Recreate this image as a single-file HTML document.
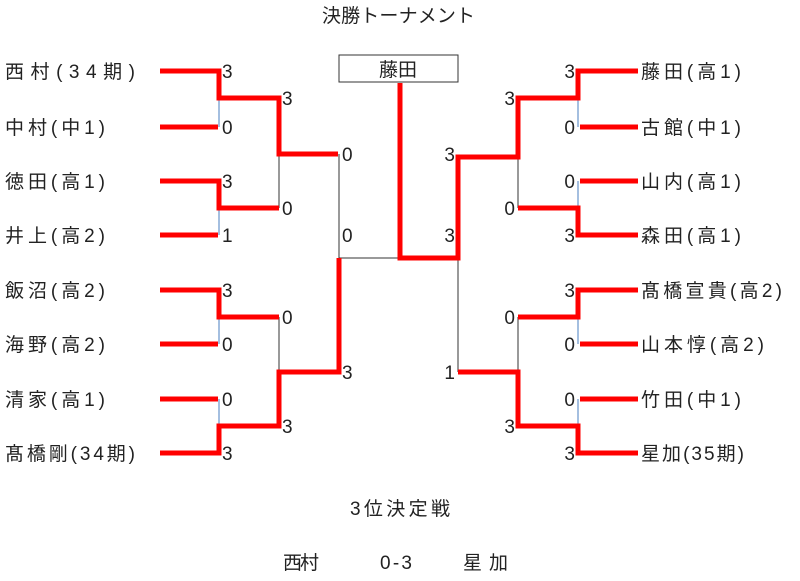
<!DOCTYPE html>
<html><head><meta charset="utf-8"><style>
body{margin:0;width:800px;height:576px;background:#fff;overflow:hidden}
svg text{font-family:"Liberation Sans","Noto Sans CJK JP",sans-serif;font-size:19px;fill:#222}
</style></head><body>
<svg width="800" height="576" xmlns="http://www.w3.org/2000/svg">
<g stroke="#4a7fc0" stroke-width="1" fill="none">
<line x1="219" y1="98" x2="219" y2="127"/><line x1="219" y1="208" x2="219" y2="235"/>
<line x1="219" y1="317" x2="219" y2="344"/><line x1="219" y1="399" x2="219" y2="426"/>
<line x1="578" y1="98" x2="578" y2="127"/><line x1="578" y1="181" x2="578" y2="208"/>
<line x1="578" y1="317" x2="578" y2="344"/><line x1="578" y1="399" x2="578" y2="426"/>
</g>
<g stroke="#333" stroke-width="1" fill="none">
<line x1="279" y1="154" x2="279" y2="208"/><line x1="279" y1="317" x2="279" y2="372"/>
<line x1="339" y1="154" x2="339" y2="258"/><line x1="339" y1="258" x2="400" y2="258"/>
<line x1="518" y1="157" x2="518" y2="208"/><line x1="518" y1="317" x2="518" y2="372"/>
<line x1="458" y1="258" x2="458" y2="372"/>
</g>
<g stroke="#f00" stroke-width="5" fill="none" stroke-linejoin="miter">
<polyline points="160,71 219,71 219,98 279,98 279,154 338,154"/>
<line x1="160" y1="127" x2="218" y2="127"/>
<polyline points="160,181 219,181 219,208 279,208"/>
<line x1="160" y1="235" x2="218" y2="235"/>
<polyline points="160,290 219,290 219,317 279,317"/>
<line x1="160" y1="344" x2="218" y2="344"/>
<line x1="160" y1="399" x2="218" y2="399"/>
<polyline points="160,453 219,453 219,426 279,426 279,372 339,372 339,258"/>
<polyline points="400,83 400,258 458,258 458,157 518,157 518,98 578,98 578,71 638,71"/>
<line x1="580" y1="127" x2="638" y2="127"/>
<line x1="580" y1="181" x2="638" y2="181"/>
<polyline points="518,208 578,208 578,235 638,235"/>
<polyline points="638,290 578,290 578,317 518,317"/>
<line x1="580" y1="344" x2="638" y2="344"/>
<polyline points="458,372 518,372 518,426 578,426 578,453 638,453"/>
<line x1="580" y1="399" x2="638" y2="399"/>
</g>
<rect x="339" y="55" width="119" height="27" fill="#fff" stroke="#333" stroke-width="1"/>
<text x="398" y="76" text-anchor="middle">藤田</text>
<text x="322" y="22" textLength="153" lengthAdjust="spacing">決勝トーナメント</text>
<g>
<text x="5" y="78" textLength="130" lengthAdjust="spacing">西村(34期)</text>
<text x="5" y="134" textLength="100" lengthAdjust="spacing">中村(中1)</text>
<text x="5" y="188" textLength="100" lengthAdjust="spacing">徳田(高1)</text>
<text x="5" y="242" textLength="100" lengthAdjust="spacing">井上(高2)</text>
<text x="5" y="297" textLength="100" lengthAdjust="spacing">飯沼(高2)</text>
<text x="5" y="351" textLength="100" lengthAdjust="spacing">海野(高2)</text>
<text x="5" y="406" textLength="100" lengthAdjust="spacing">清家(高1)</text>
<text x="5" y="460" textLength="130" lengthAdjust="spacing">髙橋剛(34期)</text>
<text x="641" y="78" textLength="100" lengthAdjust="spacing">藤田(高1)</text>
<text x="641" y="134" textLength="100" lengthAdjust="spacing">古館(中1)</text>
<text x="641" y="188" textLength="100" lengthAdjust="spacing">山内(高1)</text>
<text x="641" y="242" textLength="100" lengthAdjust="spacing">森田(高1)</text>
<text x="641" y="297" textLength="141" lengthAdjust="spacing">髙橋宣貴(高2)</text>
<text x="641" y="351" textLength="123" lengthAdjust="spacing">山本惇(高2)</text>
<text x="641" y="406" textLength="100" lengthAdjust="spacing">竹田(中1)</text>
<text x="641" y="460" textLength="103" lengthAdjust="spacing">星加(35期)</text>
</g>
<g>
<text x="222" y="78">3</text><text x="222" y="134">0</text><text x="222" y="188">3</text><text x="222" y="242">1</text>
<text x="222" y="297">3</text><text x="222" y="351">0</text><text x="222" y="406">0</text><text x="222" y="460">3</text>
<text x="282" y="105">3</text><text x="282" y="215">0</text><text x="282" y="324">0</text><text x="282" y="433">3</text>
<text x="342" y="161">0</text><text x="342" y="242">0</text><text x="342" y="379">3</text>
</g>
<g text-anchor="end">
<text x="575" y="78">3</text><text x="575" y="134">0</text><text x="575" y="188">0</text><text x="575" y="242">3</text>
<text x="575" y="297">3</text><text x="575" y="351">0</text><text x="575" y="406">0</text><text x="575" y="460">3</text>
<text x="515" y="105">3</text><text x="515" y="215">0</text><text x="515" y="324">0</text><text x="515" y="433">3</text>
<text x="455" y="161">3</text><text x="455" y="242">3</text><text x="455" y="379">1</text>
</g>
<text x="350" y="515" textLength="100" lengthAdjust="spacing">3位決定戦</text>
<text x="283" y="569" textLength="36" lengthAdjust="spacing">西村</text>
<text x="380" y="569" textLength="32" lengthAdjust="spacing">0-3</text>
<text x="463" y="569" textLength="45" lengthAdjust="spacing">星加</text>
</svg>
</body></html>
